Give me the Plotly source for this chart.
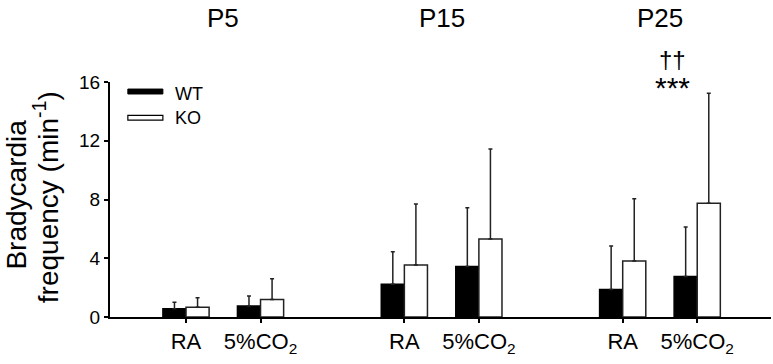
import plotly.graph_objects as go

# ---- data ----
ages = ["P5", "P15", "P25"]
conditions = ["RA", "5%CO<sub>2</sub>"]
wt_mean = [0.56, 0.75, 2.23, 3.43, 1.88, 2.75]
wt_err = [0.44, 0.68, 2.22, 4.01, 2.95, 3.38]
ko_mean = [0.66, 1.2, 3.54, 5.31, 3.81, 7.74]
ko_err = [0.65, 1.4, 4.16, 6.13, 4.24, 7.49]
y_ticks = [0, 4, 8, 12, 16]
sig_age = "P25"
sig_cond = "5%CO<sub>2</sub>"
sig_labels = ["††", "***"]
y_title_lines = ["Bradycardia", "frequency (min<sup>-1</sup>)"]

# ---- layout helpers ----
GROUP_STEP = 2.93
BAR_W = 0.31
FONT = "Liberation Sans, Arial, sans-serif"

xpos = []
xlabels = []
for gi, a in enumerate(ages):
    for ci, c in enumerate(conditions):
        xpos.append(gi * GROUP_STEP + ci)
        xlabels.append(c)

fig = go.Figure()
fig.add_trace(go.Bar(
    x=xpos, y=wt_mean, width=BAR_W, offset=-BAR_W, name="WT",
    marker=dict(color="black", line=dict(color="black", width=1.5)),
    error_y=dict(type="data", array=wt_err, arrayminus=[0] * len(wt_err),
                 symmetric=False, color="#222", thickness=1.5, width=2),
    showlegend=False, hoverinfo="skip",
))
fig.add_trace(go.Bar(
    x=xpos, y=ko_mean, width=BAR_W, offset=0, name="KO",
    marker=dict(color="white", line=dict(color="#222", width=1.5)),
    error_y=dict(type="data", array=ko_err, arrayminus=[0] * len(ko_err),
                 symmetric=False, color="#222", thickness=1.5, width=2),
    showlegend=False, hoverinfo="skip",
))

annotations = []
# age titles
for gi, a in enumerate(ages):
    annotations.append(dict(x=gi * GROUP_STEP + 0.5, y=1.274, xref="x", yref="paper",
                            text=a, showarrow=False, font=dict(size=26, color="black", family=FONT),
                            xanchor="center", yanchor="middle"))
# significance markers
gi = ages.index(sig_age)
ci = conditions.index(sig_cond)
sx = gi * GROUP_STEP + ci - 0.33
annotations.append(dict(x=sx, y=1.094, xref="x", yref="paper", text=sig_labels[0],
                        showarrow=False, font=dict(size=24, color="black", family=FONT),
                        xanchor="center", yanchor="middle"))
annotations.append(dict(x=sx, y=0.975, xref="x", yref="paper", text=sig_labels[1],
                        showarrow=False, font=dict(size=30, color="black", family=FONT),
                        xanchor="center", yanchor="middle"))
# y title (two lines, tight spacing)
annotations.append(dict(x=-0.1415, y=0.523, xref="paper", yref="paper",
                        text=y_title_lines[0], textangle=-90, showarrow=False,
                        font=dict(size=28, color="black", family=FONT),
                        xanchor="center", yanchor="middle"))
annotations.append(dict(x=-0.0968, y=0.51, xref="paper", yref="paper",
                        text=y_title_lines[1], textangle=-90, showarrow=False,
                        font=dict(size=28, color="black", family=FONT),
                        xanchor="center", yanchor="middle"))
# legend texts
annotations.append(dict(x=0.095, y=0.949, xref="paper", yref="paper", text="WT",
                        showarrow=False, font=dict(size=18, color="black", family=FONT),
                        xanchor="left", yanchor="middle"))
annotations.append(dict(x=0.095, y=0.845, xref="paper", yref="paper", text="KO",
                        showarrow=False, font=dict(size=18, color="black", family=FONT),
                        xanchor="left", yanchor="middle"))

shapes = [
    dict(type="rect", xref="paper", yref="paper", x0=0.027, x1=0.080, y0=0.949, y1=0.970,
         fillcolor="black", line=dict(color="black", width=1)),
    dict(type="rect", xref="paper", yref="paper", x0=0.027, x1=0.080, y0=0.838, y1=0.858,
         fillcolor="white", line=dict(color="black", width=1.2)),
]

fig.update_layout(
    width=773, height=364,
    margin=dict(l=110, r=2, t=82, b=47),
    plot_bgcolor="white", paper_bgcolor="white",
    font=dict(family=FONT, color="black"),
    barmode="overlay",
    hovermode=False,
    annotations=annotations,
    shapes=shapes,
    xaxis=dict(range=[-1.02, 7.85], tickvals=xpos, ticktext=xlabels,
               showgrid=False, zeroline=False, showline=True, linecolor="black", linewidth=2,
               ticks="outside", ticklen=4, tickwidth=1.5, tickcolor="black",
               tickfont=dict(size=22, color="black", family=FONT)),
    yaxis=dict(range=[0, 16], tickvals=y_ticks, showgrid=False, zeroline=False,
               showline=True, linecolor="black", linewidth=2,
               ticks="outside", ticklen=4, tickwidth=1.5, tickcolor="black",
               tickfont=dict(size=19, color="black", family=FONT)),
)

# remove the default 8px page margin so the figure fills the window exactly
fig.write_html("out.html", config={"displayModeBar": False},
               post_script="document.body.style.margin='0';document.body.style.overflow='hidden';")
